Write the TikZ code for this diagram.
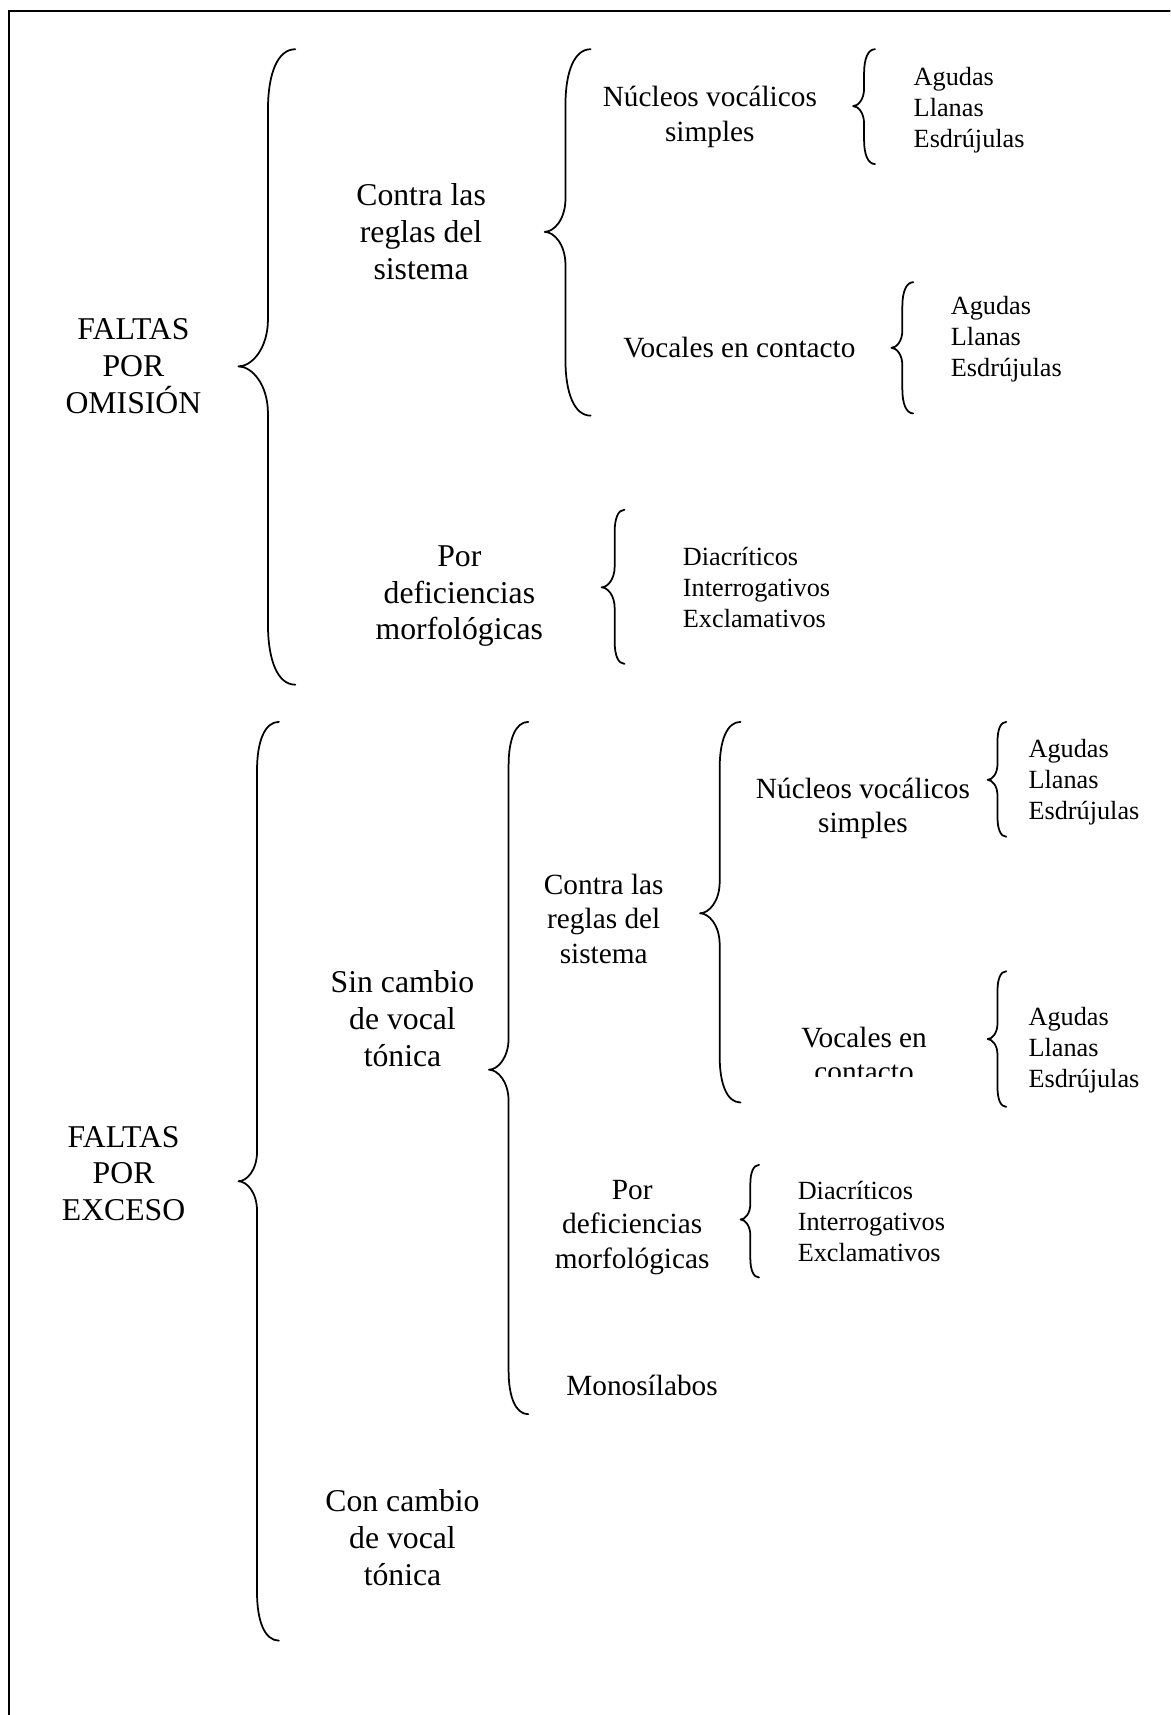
\documentclass[tikz,border=0pt]{standalone}
\usepackage{fontspec}
\setmainfont{Liberation Serif}
\begin{document}
\begin{tikzpicture}[x=0.5pt,y=-0.5pt,
  bigtxt/.style={font=\fontsize{14.5}{16.85}\selectfont,align=center,inner sep=0pt},
  midtxt/.style={font=\fontsize{13.4}{15.75}\selectfont,align=center,inner sep=0pt},
  smalltxt/.style={font=\fontsize{12}{14.15}\selectfont,align=left,anchor=west,inner sep=0pt},
  bracestroke/.style={line width=0.8pt,line join=round,line cap=round}]
% canvas
\clip (0,0) rectangle (1070,1568);
\fill[white] (0,0) rectangle (1070,1568);
\draw[line width=0.9pt] (8,1600) -- (8,10) -- (1100,10);

% curly brace: end x, spine x, tip x, top y, tip y, bottom y
\newcommand{\cbrace}[6]{%
  \pgfmathsetmacro\cbW{#1-#2}%
  \pgfmathsetmacro\cbT{#2-#3}%
  \draw[bracestroke] (#1,#4) .. controls ({#2+0.35*\cbW},#4) and (#2,{#4+0.9*\cbW}) .. (#2,{#4+2.2*\cbW})
    -- (#2,{#5-1.6*\cbT}) .. controls (#2,{#5-0.6*\cbT}) and ({#3+0.45*\cbT},#5) .. (#3,#5)
    .. controls ({#3+0.45*\cbT},#5) and (#2,{#5+0.6*\cbT}) .. (#2,{#5+1.6*\cbT})
    -- (#2,{#6-2.2*\cbW}) .. controls (#2,{#6-0.9*\cbW}) and ({#2+0.35*\cbW},#6) .. (#1,#6);}

% ---- omission branch ----
\node[bigtxt] (omis) at (122,335) {FALTAS\\POR\\OMISIÓN};
\cbrace{270}{245}{218}{45}{335}{626}
\node[bigtxt] (ctr1) at (385,212) {Contra las\\reglas del\\sistema};
\cbrace{540}{517}{498}{45}{212}{380}
\node[midtxt] (nuc1) at (649,107) {Núcleos vocálicos\\simples};
\cbrace{800}{790}{780}{45}{97}{150}
\node[smalltxt] (ag1) at (835,100.5) {Agudas\\Llanas\\Esdrújulas};
\node[midtxt] (voc1) at (676,318) {Vocales en contacto};
\cbrace{835}{825}{815}{258}{318}{378}
\node[smalltxt] (ag2) at (869,310.5) {Agudas\\Llanas\\Esdrújulas};
\node[bigtxt] (pdef1) at (420,545) {Por\\deficiencias\\morfológicas};
\cbrace{571}{562}{550}{466}{537}{607}
\node[smalltxt] (dia1) at (624,537) {Diacríticos\\Interrogativos\\Exclamativos};

% ---- excess branch ----
\node[bigtxt] (exc) at (113,1073) {FALTAS\\POR\\EXCESO};
\cbrace{255}{235}{218}{660}{1080}{1500}
\node[bigtxt] (sin) at (368,931) {Sin cambio\\de vocal\\tónica};
\cbrace{483}{465}{447}{660}{978}{1293}
\node[midtxt] (ctr2) at (552,840) {Contra las\\reglas del\\sistema};
\cbrace{677}{658}{640}{660}{835}{1008}
\node[midtxt] (nuc2) at (789,739) {Núcleos vocálicos\\simples};
\cbrace{920}{912}{903}{660}{713}{765}
\node[smalltxt] (ag3) at (940,715) {Agudas\\Llanas\\Esdrújulas};
\begin{scope}
  \clip (700,900) rectangle (880,984);
  \node[midtxt] (voc2) at (790,964) {Vocales en\\contacto};
\end{scope}
\cbrace{920}{912}{903}{888}{950}{1012}
\node[smalltxt] (ag4) at (940,960.5) {Agudas\\Llanas\\Esdrújulas};
\node[midtxt] (pdef2) at (578,1122) {Por\\deficiencias\\morfológicas};
\cbrace{694}{686}{677}{1065}{1115}{1168}
\node[smalltxt] (dia2) at (729,1117) {Diacríticos\\Interrogativos\\Exclamativos};
\node[midtxt] (mono) at (587,1267) {Monosílabos};
\node[bigtxt] (con) at (368,1406) {Con cambio\\de vocal\\tónica};
\end{tikzpicture}
\end{document}
